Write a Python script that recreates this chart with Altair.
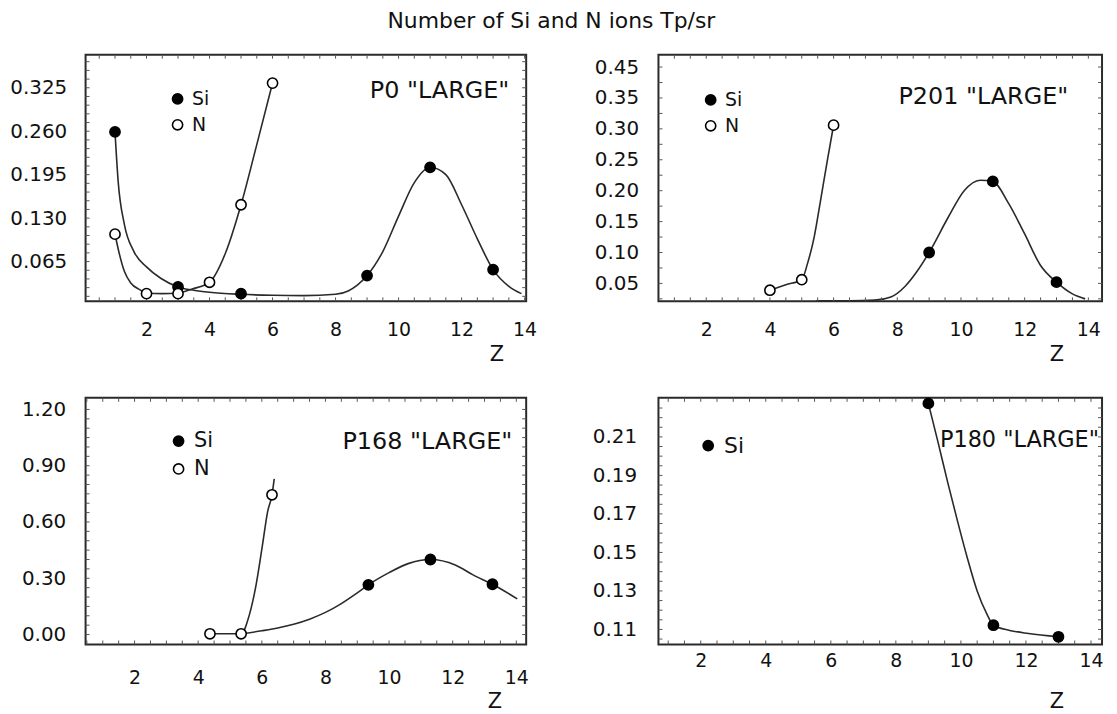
import altair as alt
import pandas as pd

FONT = "DejaVu Sans"

# ---------------- data ----------------
title_text = "Number of Si and N ions Tp/sr"
x_ticks = [2, 4, 6, 8, 10, 12, 14]
x_minor = [i * 0.5 for i in range(1, 29)]

# P0 "LARGE"
p0_si_z = [1, 3, 5, 9, 11, 13]
p0_si_v = [0.259, 0.027, 0.017, 0.044, 0.206, 0.053]
p0_n_z = [1, 2, 3, 4, 5, 6]
p0_n_v = [0.106, 0.017, 0.017, 0.034, 0.150, 0.332]
p0_si_curve_z = [1.0, 1.1, 1.3, 1.6, 2.0, 2.45, 3.0, 3.5, 4.0, 5.0, 6.0, 7.0, 8.0, 8.4, 8.7,
                 9.0, 9.5, 10.0, 10.5, 11.0, 11.5, 12.0, 12.5, 13.0, 13.5, 13.9]
p0_si_curve_v = [0.259, 0.185, 0.120, 0.080, 0.057, 0.040, 0.027, 0.022, 0.019, 0.016, 0.0145,
                 0.014, 0.016, 0.021, 0.030, 0.044, 0.080, 0.133, 0.183, 0.206, 0.195,
                 0.150, 0.099, 0.053, 0.028, 0.017]
p0_n_curve_z = [1.0, 1.11, 1.3, 1.5, 1.78, 2.0, 2.5, 3.0, 3.45, 4.0, 4.5, 5.0, 5.5, 6.0]
p0_n_curve_v = [0.106, 0.082, 0.050, 0.033, 0.023, 0.018, 0.017, 0.018, 0.024, 0.034, 0.077,
                0.150, 0.240, 0.332]
p0_y_ticks = [0.065, 0.13, 0.195, 0.26, 0.325]
p0_y_minor = [i * 0.013 for i in range(1, 29)]

# P201 "LARGE"
p201_si_z = [9, 11, 13]
p201_si_v = [0.100, 0.215, 0.052]
p201_n_z = [4, 5, 6]
p201_n_v = [0.039, 0.056, 0.306]
p201_si_curve_z = [5.45, 6.5, 7.3, 7.8, 8.24, 8.6, 9.0, 9.6, 10.1, 10.6, 11.0, 11.5, 12.0, 12.5,
                   13.0, 13.5, 13.9]
p201_si_curve_v = [0.022, 0.022, 0.023, 0.028, 0.045, 0.068, 0.100, 0.157, 0.200, 0.217, 0.215,
                   0.179, 0.130, 0.079, 0.052, 0.033, 0.025]
p201_n_curve_z = [4.0, 4.5, 5.0, 5.18, 5.39, 5.59, 5.8, 6.0]
p201_n_curve_v = [0.039, 0.048, 0.056, 0.082, 0.125, 0.184, 0.248, 0.306]
p201_y_ticks = [0.05, 0.10, 0.15, 0.20, 0.25, 0.30, 0.35, 0.40]
p201_y_minor = [0.025 + i * 0.025 for i in range(0, 16)]

# P168 "LARGE"
p168_si_z = [9.35, 11.3, 13.25]
p168_si_v = [0.265, 0.400, 0.268]
p168_n_z = [4.37, 5.35, 6.32]
p168_n_v = [0.004, 0.004, 0.745]
p168_si_curve_z = [5.39, 6.0, 6.5, 7.0, 7.5, 8.0, 8.5, 9.0, 9.35, 10.0, 10.6, 11.3, 12.08,
                   12.64, 13.25, 14.03]
p168_si_curve_v = [0.004, 0.020, 0.035, 0.055, 0.082, 0.118, 0.165, 0.222, 0.265, 0.330,
                   0.378, 0.400, 0.371, 0.318, 0.268, 0.190]
p168_n_curve_z = [4.37, 4.9, 5.35, 5.61, 5.82, 6.02, 6.18, 6.32, 6.39]
p168_n_curve_v = [0.004, 0.004, 0.004, 0.106, 0.265, 0.476, 0.653, 0.745, 0.830]
p168_y_ticks = [0.0, 0.3, 0.6, 0.9, 1.2]
p168_y_minor = [i * 0.05 for i in range(0, 25)]

# P180 "LARGE"
p180_si_z = [9, 11, 13]
p180_si_v = [0.2274, 0.1122, 0.1062]
p180_si_curve_z = [9.0, 9.3, 9.6, 9.9, 10.2, 10.5, 10.8, 11.0, 11.5, 12.08, 13.0]
p180_si_curve_v = [0.2274, 0.207, 0.186, 0.166, 0.147, 0.130, 0.118, 0.1122, 0.1095, 0.1079,
                   0.1062]
p180_y_ticks = [0.11, 0.13, 0.15, 0.17, 0.19, 0.21]
p180_y_minor = [0.105 + i * 0.005 for i in range(0, 25)]

panel_labels = ['P0 "LARGE"', 'P201 "LARGE"', 'P168 "LARGE"', 'P180 "LARGE"']


def make_panel(si_z, si_v, n_z, n_v, curves, xdom, ydom, yvals, y_minor, ylabel_expr,
               w, h, label, label_x, label_y, label_align, label_font, legend_x, legend_y,
               legend_font, legend_gap, x_label_pad, y_label_pad, z_x, z_y):
    rows = [{"z": a, "v": b, "ion": "Si"} for a, b in zip(si_z, si_v)]
    rows += [{"z": a, "v": b, "ion": "N"} for a, b in zip(n_z, n_v)]
    pts_df = pd.DataFrame(rows)
    ions = ["Si", "N"] if n_z else ["Si"]
    fills = ["black", "white"] if n_z else ["black"]

    crow = []
    for name, (cz, cv) in curves.items():
        crow += [{"z": a, "v": b, "series": name} for a, b in zip(cz, cv)]
    curve_df = pd.DataFrame(crow)

    xs = alt.Scale(domain=xdom, nice=False, zero=False)
    ys = alt.Scale(domain=ydom, nice=False, zero=False)
    xaxis = alt.Axis(values=x_ticks, format="d", title="Z", labelPadding=x_label_pad,
                     labelBaseline="middle", labelFontSize=19, titleX=z_x, titleY=z_y,
                     titleAlign="center", titleBaseline="middle", titleAngle=0)
    yaxis = alt.Axis(values=yvals, title=None, labelPadding=y_label_pad,
                     labelExpr=ylabel_expr, labelFontSize=20)

    xt = pd.DataFrame({"z": [t for t in x_minor if xdom[0] < t < xdom[1]]})
    yt = pd.DataFrame({"v": [t for t in y_minor if ydom[0] < t < ydom[1]]})
    tick_style = dict(color="#555", strokeWidth=1)
    ticks = [
        alt.Chart(xt).mark_rule(**tick_style).encode(
            x=alt.X("z:Q", scale=xs, axis=xaxis), y=alt.value(h), y2=alt.value(h - 4)),
        alt.Chart(xt).mark_rule(**tick_style).encode(
            x=alt.X("z:Q", scale=xs, axis=xaxis), y=alt.value(0), y2=alt.value(4)),
        alt.Chart(yt).mark_rule(**tick_style).encode(
            y=alt.Y("v:Q", scale=ys, axis=yaxis), x=alt.value(0), x2=alt.value(4)),
        alt.Chart(yt).mark_rule(**tick_style).encode(
            y=alt.Y("v:Q", scale=ys, axis=yaxis), x=alt.value(w - 4), x2=alt.value(w)),
    ]

    lines = alt.Chart(curve_df).mark_line(
        interpolate="monotone", color="#2a2a2a", strokeWidth=1.6
    ).encode(
        x=alt.X("z:Q", scale=xs, axis=xaxis),
        y=alt.Y("v:Q", scale=ys, axis=yaxis),
        detail="series:N",
    )
    pts = alt.Chart(pts_df).mark_circle(
        size=105, opacity=1, stroke="black", strokeWidth=1.6
    ).encode(
        x=alt.X("z:Q", scale=xs, axis=xaxis),
        y=alt.Y("v:Q", scale=ys, axis=yaxis),
        fill=alt.Fill("ion:N", scale=alt.Scale(domain=ions, range=fills),
                      legend=alt.Legend(orient="none", legendX=legend_x, legendY=legend_y,
                                        title=None, labelFont=FONT, labelFontSize=legend_font,
                                        labelColor="#111", symbolType="circle",
                                        symbolSize=105, symbolStrokeColor="black",
                                        symbolStrokeWidth=1.6, rowPadding=legend_gap,
                                        padding=0, labelOffset=5)),
    )
    txt = alt.Chart(pd.DataFrame({"t": [label]})).mark_text(
        align=label_align, baseline="middle", font=FONT, fontSize=label_font, color="#111",
        clip=True
    ).encode(x=alt.value(label_x), y=alt.value(label_y), text="t:N")

    return alt.layer(lines, *ticks, pts, txt).properties(width=w, height=h)


p0 = make_panel(p0_si_z, p0_si_v, p0_n_z, p0_n_v,
                {"si": (p0_si_curve_z, p0_si_curve_v), "n": (p0_n_curve_z, p0_n_curve_v)},
                [0.066, 14.05], [0.0055, 0.3745], p0_y_ticks, p0_y_minor,
                "format(datum.value, '.3f')",
                443, 248, panel_labels[0], 426, 37, "right", 24, 83, 35, 19, 6, 28, 19, 413, 53)

p201 = make_panel(p201_si_z, p201_si_v, p201_n_z, p201_n_v,
                  {"si": (p201_si_curve_z, p201_si_curve_v),
                   "n": (p201_n_curve_z, p201_n_curve_v)},
                  [0.5, 14.43], [0.021, 0.42], p201_y_ticks, p201_y_minor,
                  "datum.value > 0.39 ? '0.45' : format(datum.value, '.2f')",
                  446, 248, panel_labels[1], 412, 43, "right", 24, 43, 36, 19, 6, 28, 20, 400, 53)

p168 = make_panel(p168_si_z, p168_si_v, p168_n_z, p168_n_v,
                  {"si": (p168_si_curve_z, p168_si_curve_v),
                   "n": (p168_n_curve_z, p168_n_curve_v)},
                  [0.46, 14.31], [-0.053, 1.262], p168_y_ticks, p168_y_minor,
                  "format(datum.value, '.2f')",
                  443, 248, panel_labels[2], 429, 44, "right", 24, 83, 33, 21, 6, 33, 20, 411, 57)

p180 = make_panel(p180_si_z, p180_si_v, [], [],
                  {"si": (p180_si_curve_z, p180_si_curve_v)},
                  [0.70, 14.34], [0.1022, 0.2303], p180_y_ticks, p180_y_minor,
                  "format(datum.value, '.2f')",
                  446, 248, panel_labels[3], 283, 42, "left", 22.5, 39, 37, 22, 6, 16, 22, 400, 57)

chart = alt.concat(
    p0, p201, p168, p180, columns=2, bounds="flush",
    spacing=alt.RowColnumber(row=97, column=133)
).resolve_scale(
    x="independent", y="independent", fill="independent"
).properties(
    title=alt.TitleParams(title_text, font=FONT, fontSize=22, fontWeight="normal",
                          color="#111", anchor="middle", dx=-5, offset=20),
    padding={"left": 0, "top": 0, "right": 5, "bottom": 5}
).configure_view(
    stroke="#2a2a2a", strokeWidth=2
).configure_axis(
    labelFont=FONT, labelFontSize=19, labelColor="#111", titleFont=FONT,
    titleFontSize=21, titleFontWeight="normal", titleColor="#111",
    domain=False, grid=False, ticks=False, tickSize=0
)

chart.save("out.html", embed_options={"renderer": "svg", "actions": False})
